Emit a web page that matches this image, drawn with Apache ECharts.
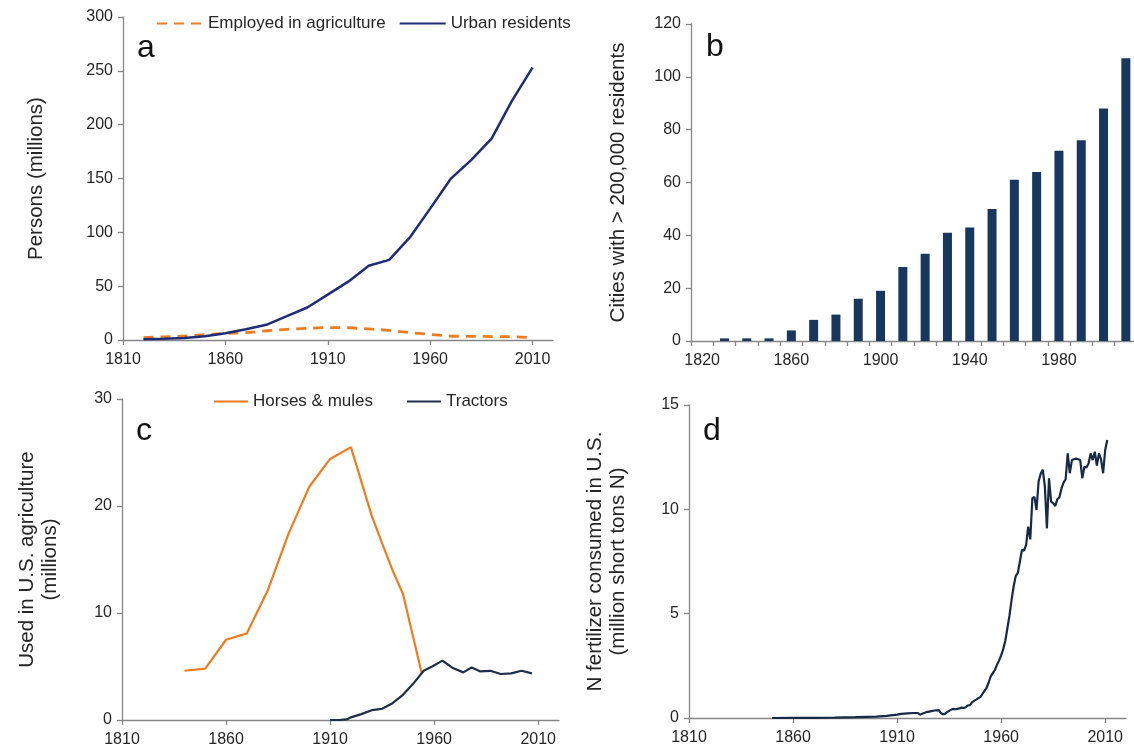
<!DOCTYPE html>
<html>
<head>
<meta charset="utf-8">
<script src="https://cdn.jsdelivr.net/npm/echarts@6/dist/echarts.min.js"></script>
<style>
  html, body { margin: 0; padding: 0; background: #fff; }
  #chart { width: 1134px; height: 751px; }
</style>
</head>
<body>
<div id="chart"></div>
<script>
// panel a: decades 1820-2010
const decadeYears = [1820, 1830, 1840, 1850, 1860, 1870, 1880, 1890, 1900, 1910, 1920, 1930, 1940, 1950, 1960, 1970, 1980, 1990, 2000, 2010];
const employedAg = [2.2, 2.9, 3.7, 4.9, 6.2, 6.8, 8.6, 9.9, 10.9, 11.6, 11.4, 10.3, 9.0, 6.9, 5.2, 3.5, 3.4, 3.2, 3.1, 2.2];
const urbanResidents = [0.7, 1.1, 1.8, 3.5, 6.2, 9.9, 14.1, 22.1, 30.2, 42.1, 54.2, 69.0, 74.4, 95, 122, 149.6, 167.1, 187.1, 222.4, 253];

// panel b: cities with > 200,000 residents
const cityDecades = ['1820', '1830', '1840', '1850', '1860', '1870', '1880', '1890', '1900', '1910', '1920', '1930', '1940', '1950', '1960', '1970', '1980', '1990', '2000', '2010'];
const bigCities = [0, 1, 1, 1, 4, 8, 10, 16, 19, 28, 33, 41, 43, 50, 61, 64, 72, 76, 88, 107];

// panel c: horses & mules, tractors (millions)
const horseYears = [1840, 1850, 1860, 1870, 1880, 1890, 1900, 1910, 1920, 1930, 1935, 1940, 1945, 1954];
const horses = [4.6, 4.8, 7.5, 8.1, 12.1, 17.4, 21.8, 24.4, 25.5, 19.1, 16.5, 14.0, 11.8, 4.4];
const tractorYears = [1910, 1915, 1918, 1920, 1925, 1930, 1933, 1935, 1940, 1945, 1950, 1955, 1959, 1964, 1969, 1974, 1978, 1982, 1987, 1992, 1997, 2002, 2007];
const tractors = [0, 0.02, 0.05, 0.25, 0.55, 0.92, 1.0, 1.05, 1.57, 2.35, 3.4, 4.6, 5.0, 5.55, 4.85, 4.45, 4.9, 4.55, 4.6, 4.3, 4.36, 4.6, 4.36];

// panel d: N fertilizer consumed (million short tons N)
const fertYears = [1850, 1860, 1870, 1880, 1890, 1900, 1905, 1910, 1912, 1915, 1918, 1920, 1921, 1922, 1924, 1926, 1928, 1930, 1931, 1932, 1933, 1934, 1935, 1936, 1937, 1938, 1939, 1940, 1941, 1942, 1943, 1944, 1945, 1946, 1947, 1948, 1949,
  1950, 1951, 1952, 1953, 1954, 1955, 1956, 1957, 1958, 1959, 1960, 1961, 1962, 1963, 1964, 1965, 1966, 1967, 1968, 1969, 1970, 1971, 1972, 1973, 1974, 1975, 1976, 1977, 1978, 1979,
  1980, 1981, 1982, 1983, 1984, 1985, 1986, 1987, 1988, 1989, 1990, 1991, 1992, 1993, 1994, 1995, 1996, 1997, 1998, 1999, 2000, 2001, 2002, 2003, 2004, 2005, 2006, 2007, 2008, 2009, 2010, 2011];
const fertN = [0, 0.005, 0.01, 0.02, 0.04, 0.07, 0.1, 0.16, 0.2, 0.22, 0.24, 0.24, 0.16, 0.2, 0.28, 0.32, 0.36, 0.38, 0.24, 0.18, 0.2, 0.28, 0.34, 0.4, 0.44, 0.42, 0.44, 0.46, 0.5, 0.48, 0.52, 0.6, 0.62, 0.75, 0.82, 0.88, 0.95,
  1.0, 1.15, 1.3, 1.45, 1.7, 2.0, 2.15, 2.3, 2.55, 2.75, 3.0, 3.3, 3.7, 4.3, 4.9, 5.65, 6.3, 6.8, 6.95, 7.5, 8.05, 8.02, 8.3, 9.17, 8.56, 10.53, 10.6, 9.97, 11.33, 11.7,
  11.9, 11.1, 9.09, 11.49, 10.37, 10.3, 10.16, 10.48, 10.58, 11.0, 11.28, 11.44, 12.68, 11.73, 12.36, 12.4, 12.43, 12.4, 12.36, 11.49, 12.04, 12.0, 12.2, 12.68, 12.36, 12.76, 12.1, 12.68, 12.4, 11.73, 12.84, 13.32];

const pairs = (xs, ys) => xs.map((x, i) => [x, ys[i]]);

const FONT = 'Arial, "Liberation Sans", sans-serif';
const TXT = '#262626';
const AXIS = '#868686';
const ORANGE = '#F07C1E';
const NAVY = '#1F2D78';
const SLATE = '#1D2F4A';
const BAR = '#17375E';

const axisLine = { show: true, lineStyle: { color: AXIS, width: 1.3 } };
const axisTick = { show: true, length: 5, lineStyle: { color: AXIS, width: 1.3 } };
const tickLabel = { color: TXT, fontSize: 16, fontFamily: FONT };
const nameStyle = { color: TXT, fontSize: 20.5, fontFamily: FONT, lineHeight: 23 };
const letterStyle = { fontSize: 32, fontWeight: 'normal', color: '#111', fontFamily: FONT };

const yearAxis = (gridIndex) => ({
    type: 'value', gridIndex: gridIndex, min: 1810, max: 2020, interval: 50,
    axisLine: axisLine, axisTick: axisTick, splitLine: { show: false },
    axisLabel: Object.assign({ margin: 12, showMaxLabel: false, formatter: (v) => String(v) }, tickLabel)
});

const valueAxis = (gridIndex, max, interval, name, gap) => ({
    type: 'value', gridIndex: gridIndex, min: 0, max: max, interval: interval,
    name: name, nameLocation: 'middle', nameRotate: 90, nameGap: gap, nameTextStyle: nameStyle,
    axisLine: axisLine, axisTick: axisTick, splitLine: { show: false },
    axisLabel: Object.assign({ margin: 10 }, tickLabel)
});

const chart = echarts.init(document.getElementById('chart'));

const option = {
    backgroundColor: '#fff',
    animation: false,
    title: [
        { text: 'a', left: 137, top: 32, padding: 0, textStyle: letterStyle },
        { text: 'b', left: 706, top: 31, padding: 0, textStyle: letterStyle },
        { text: 'c', left: 136, top: 415, padding: 0, textStyle: letterStyle },
        { text: 'd', left: 703, top: 415, padding: 0, textStyle: letterStyle }
    ],
    legend: [
        {
            data: ['Employed in agriculture', 'Urban residents'],
            left: 156, top: 15, padding: 0, itemWidth: 46, itemHeight: 12, itemGap: 13,
            itemStyle: { opacity: 0 },
            textStyle: { color: TXT, fontSize: 17, fontFamily: FONT }
        },
        {
            data: ['Horses & mules', 'Tractors'],
            left: 213, top: 393, padding: 0, itemWidth: 34, itemHeight: 12, itemGap: 33,
            itemStyle: { opacity: 0 },
            textStyle: { color: TXT, fontSize: 17, fontFamily: FONT }
        }
    ],
    grid: [
        { left: 123, top: 17, width: 430, height: 323, outerBoundsMode: 'none' },
        { left: 691, top: 24, width: 446, height: 317, outerBoundsMode: 'none' },
        { left: 122, top: 399, width: 437, height: 321, outerBoundsMode: 'none' },
        { left: 689, top: 405, width: 437, height: 313, outerBoundsMode: 'none' }
    ],
    xAxis: [
        yearAxis(0),
        {
            type: 'category', gridIndex: 1, data: cityDecades,
            axisLine: axisLine, axisTick: { show: true, length: 5, interval: 0, lineStyle: { color: AXIS, width: 1.3 } },
            axisLabel: Object.assign({ margin: 12, interval: 3 }, tickLabel)
        },
        yearAxis(2),
        yearAxis(3)
    ],
    yAxis: [
        valueAxis(0, 300, 50, 'Persons (millions)', 75),
        valueAxis(1, 120, 20, 'Cities with > 200,000 residents', 61),
        valueAxis(2, 30, 10, 'Used in U.S. agriculture\n(millions)', 60),
        valueAxis(3, 15, 5, 'N fertilizer consumed in U.S.\n(million short tons N)', 59)
    ],
    series: [
        {
            name: 'Employed in agriculture', type: 'line', xAxisIndex: 0, yAxisIndex: 0,
            data: pairs(decadeYears, employedAg), symbol: 'none',
            lineStyle: { color: ORANGE, width: 2.8, type: [10, 7] }, itemStyle: { color: ORANGE }
        },
        {
            name: 'Urban residents', type: 'line', xAxisIndex: 0, yAxisIndex: 0,
            data: pairs(decadeYears, urbanResidents), symbol: 'none',
            lineStyle: { color: NAVY, width: 2.5 }, itemStyle: { color: NAVY }
        },
        {
            name: 'Cities', type: 'bar', xAxisIndex: 1, yAxisIndex: 1,
            data: bigCities, barWidth: 9, itemStyle: { color: BAR }
        },
        {
            name: 'Horses & mules', type: 'line', xAxisIndex: 2, yAxisIndex: 2,
            data: pairs(horseYears, horses), symbol: 'none',
            lineStyle: { color: ORANGE, width: 2.2 }, itemStyle: { color: ORANGE }
        },
        {
            name: 'Tractors', type: 'line', xAxisIndex: 2, yAxisIndex: 2,
            data: pairs(tractorYears, tractors), symbol: 'none',
            lineStyle: { color: SLATE, width: 2.2 }, itemStyle: { color: SLATE }
        },
        {
            name: 'N fertilizer', type: 'line', xAxisIndex: 3, yAxisIndex: 3,
            data: pairs(fertYears, fertN), symbol: 'none',
            lineStyle: { color: '#162A48', width: 2.2 }, itemStyle: { color: '#162A48' }
        }
    ]
};

chart.setOption(option);
</script>
</body>
</html>
